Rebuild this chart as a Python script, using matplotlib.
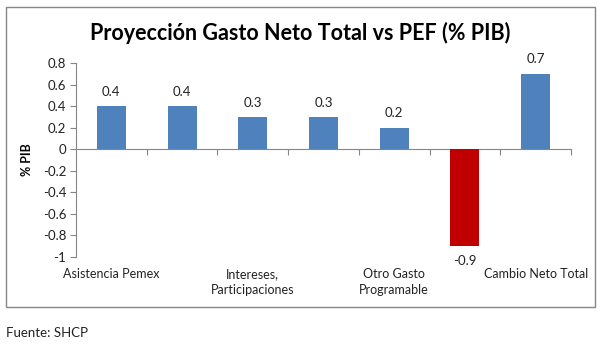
import matplotlib
matplotlib.use("Agg")
import matplotlib.pyplot as plt
import matplotlib.transforms as mtransforms
from matplotlib.patches import Rectangle
from matplotlib.ticker import FixedLocator, FuncFormatter

categories = ["Asistencia Pemex", "", "Intereses,\nParticipaciones", "", "Otro Gasto\nProgramable", "", "Cambio Neto Total"]
values = [0.4, 0.4, 0.3, 0.3, 0.2, -0.9, 0.7]
value_labels = ["0.4", "0.4", "0.3", "0.3", "0.2", "-0.9", "0.7"]
bar_colors = ["#4F81BD", "#4F81BD", "#4F81BD", "#4F81BD", "#4F81BD", "#C00000", "#4F81BD"]
yticks = [-1, -0.8, -0.6, -0.4, -0.2, 0, 0.2, 0.4, 0.6, 0.8]

plt.rcParams['font.family'] = ['Lato', 'DejaVu Sans']
plt.rcParams['axes.unicode_minus'] = False

W, H = 605, 352
fig = plt.figure(figsize=(W / 100, H / 100), dpi=100)

# chart border
fig.patches.append(Rectangle((6 / W, 1 - 307 / H), (595 - 6) / W, (307 - 7) / H,
                             transform=fig.transFigure, fill=False,
                             edgecolor="#868686", linewidth=1.0))

ax = fig.add_axes([76 / W, 1 - 257 / H, (571 - 76) / W, (257 - 63) / H])
x = list(range(len(values)))
bars = ax.bar(x, values, width=0.41, color=bar_colors, zorder=3)
ax.set_xlim(-0.5, len(values) - 0.5)
ax.set_ylim(-1, 0.8)

for xi, v, lab in zip(x, values, value_labels):
    if v >= 0:
        ax.annotate(lab, (xi, v), xytext=(0, 6), textcoords="offset points",
                    ha="center", va="bottom", fontsize=9.5, color="#222222")
    else:
        ax.annotate(lab, (xi, v), xytext=(0, -6), textcoords="offset points",
                    ha="center", va="top", fontsize=9.5, color="#222222")

for s in ["top", "right"]:
    ax.spines[s].set_visible(False)
ax.spines["left"].set_color("#868686")
ax.spines["bottom"].set_color("#868686")
ax.spines["bottom"].set_position(("data", 0))

ax.yaxis.set_major_locator(FixedLocator(yticks))
ax.yaxis.set_major_formatter(FuncFormatter(lambda v, p: ("%g" % round(v, 2))))
ax.tick_params(axis="y", direction="out", length=4, color="#868686",
               labelsize=9.5, labelcolor="#222222", pad=3)
ax.xaxis.set_major_locator(FixedLocator([i + 0.5 for i in range(len(values))]))
ax.xaxis.set_major_formatter(FuncFormatter(lambda v, p: ""))
ax.tick_params(axis="x", direction="out", length=4, color="#868686")

trans = mtransforms.blended_transform_factory(ax.transData, ax.transAxes)
for xi, c in zip(x, categories):
    if c:
        ax.text(xi, -0.055, c, transform=trans, ha="center", va="top",
                fontsize=9, color="#222222", linespacing=1.45)

ax.set_ylabel("% PIB", fontsize=9, fontweight="bold", labelpad=10)
ax.yaxis.set_label_coords(-43 / (571 - 76), 0.5)

fig.text(300 / W, 1 - 33 / H, "Proyección Gasto Neto Total vs PEF (% PIB)",
         ha="center", va="center", fontsize=15.5, fontweight="bold")
fig.text(6 / W, 1 - 333 / H, "Fuente: SHCP", ha="left", va="center",
         fontsize=9.5, color="#222222")

fig.savefig("out.png", dpi=100)
